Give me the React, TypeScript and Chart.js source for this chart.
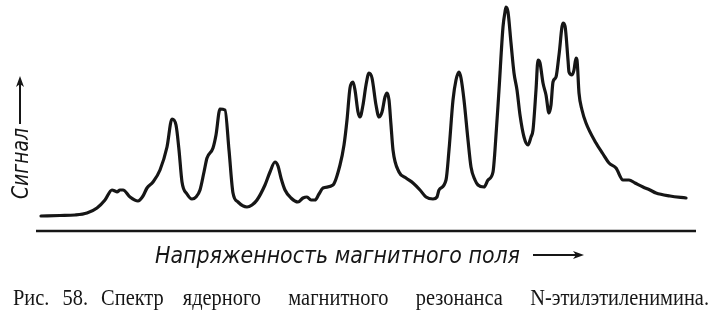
import React, { useEffect, useRef } from "react";
import { Chart, registerables } from "chart.js";
Chart.register(...registerables);

// Field strength (arbitrary units, left → right) and signal intensity
const fieldStrength = [
  5, 24, 39, 51, 61, 69, 76, 79, 81, 84, 87, 94, 102, 107, 111, 117, 124, 131, 136, 140,
  143, 146, 151, 156, 160, 164, 168, 171, 177, 180, 184, 189, 193, 197, 202, 211, 216, 221, 229, 234,
  239, 242, 245, 249, 255, 262, 267, 271, 275, 279, 283, 287, 297, 304, 308, 311, 314, 317, 319, 322,
  324, 327, 330, 333, 336, 340, 343, 346, 349, 351, 353, 355, 357, 363, 370, 377, 384, 390, 397, 401,
  403, 410, 413, 417, 420, 423, 425, 428, 432, 435, 439, 442, 448, 452, 457, 459, 463, 467, 469, 470,
  472, 475, 478, 481, 484, 488, 492, 495, 497, 500, 502, 504, 507, 510, 513, 515, 517, 520, 523, 527,
  529, 532, 533, 536, 538, 540, 541, 543, 546, 550, 560, 567, 573, 580, 587, 593, 599, 607, 614, 620,
  634, 650,
];
const signal = [
  15, 15.5, 16, 18, 23, 31, 41, 40, 39, 41, 41, 34, 30, 35, 43, 49, 61, 84, 112, 106,
  81, 49, 37, 32, 34, 41, 59, 73, 83, 96, 122, 121, 81, 38, 29, 24, 26, 31, 46, 59,
  69, 65, 53, 41, 33, 29, 33, 34, 31, 31, 37, 43, 46, 66, 86, 111, 143, 149, 141, 119,
  114, 126, 146, 158, 153, 126, 114, 119, 134, 138, 131, 106, 81, 59, 53, 48, 41, 34, 32, 34,
  41, 51, 81, 131, 151, 159, 153, 131, 91, 64, 51, 46, 44, 51, 59, 81, 141, 204, 219, 224,
  219, 188, 158, 141, 116, 94, 86, 94, 101, 141, 171, 168, 148, 136, 118, 126, 149, 154, 176, 208,
  205, 171, 159, 156, 161, 173, 171, 138, 121, 108, 88, 77, 68, 63, 51, 51, 48, 44, 41, 38,
  35, 33,
];
const yMax = 231;
const xMax = 660;

const xAxisLabel = "Напряженность магнитного поля";
const yAxisLabel = "Сигнал";
const captionWords = ["Рис.", "58.", "Спектр", "ядерного", "магнитного", "резонанса", "N-этилэтиленимина."];
const captionGapWeights = [0.55, 0.55, 0.8, 1.15, 1.15, 1.15];

const ink = "#161616";

function arrowHead(ctx: CanvasRenderingContext2D, x: number, y: number, dir: "right" | "up") {
  ctx.beginPath();
  if (dir === "right") {
    ctx.moveTo(x, y);
    ctx.lineTo(x - 11, y - 4);
    ctx.lineTo(x - 8, y);
    ctx.lineTo(x - 11, y + 4);
  } else {
    ctx.moveTo(x, y);
    ctx.lineTo(x - 4, y + 11);
    ctx.lineTo(x, y + 8);
    ctx.lineTo(x + 4, y + 11);
  }
  ctx.closePath();
  ctx.fill();
}

export default function App() {
  const ref = useRef<HTMLCanvasElement>(null);

  useEffect(() => {
    const canvas = ref.current;
    if (!canvas) return;

    const decor = {
      id: "decor",
      afterDraw(chart: any) {
        const { ctx, chartArea } = chart;
        ctx.save();
        ctx.fillStyle = ink;
        ctx.strokeStyle = ink;

        // baseline (field axis)
        ctx.lineWidth = 2.5;
        ctx.beginPath();
        ctx.moveTo(chartArea.left, chartArea.bottom);
        ctx.lineTo(chartArea.right, chartArea.bottom);
        ctx.stroke();

        // x-axis label with arrow
        ctx.font = "italic 23px 'DejaVu Sans'";
        ctx.textAlign = "left";
        ctx.textBaseline = "alphabetic";
        ctx.fillText(xAxisLabel, 155, 263, 365);
        ctx.lineWidth = 2;
        ctx.beginPath();
        ctx.moveTo(533, 255);
        ctx.lineTo(577, 255);
        ctx.stroke();
        arrowHead(ctx, 584, 255, "right");

        // y-axis label with arrow (rotated)
        ctx.save();
        ctx.translate(28, 199);
        ctx.rotate(-Math.PI / 2);
        ctx.fillText(yAxisLabel, 0, 0, 71);
        ctx.restore();
        ctx.beginPath();
        ctx.moveTo(20, 124);
        ctx.lineTo(20, 84);
        ctx.stroke();
        arrowHead(ctx, 20, 76, "up");

        // caption, spread across the full width
        ctx.font = "24px 'Liberation Serif'";
        const sx = 0.85;
        const left = 13;
        const right = 709;
        const widths = captionWords.map((w) => ctx.measureText(w).width * sx);
        const total = widths.reduce((a, b) => a + b, 0);
        const wsum = captionGapWeights.reduce((a, b) => a + b, 0);
        const unit = Math.max(0, right - left - total) / wsum;
        let x = left;
        captionWords.forEach((w, i) => {
          ctx.save();
          ctx.translate(x, 305);
          ctx.scale(sx, 1);
          ctx.fillText(w, 0, 0);
          ctx.restore();
          x += widths[i] + (captionGapWeights[i] || 0) * unit;
        });

        ctx.restore();
      },
    };

    const chart = new Chart(canvas, {
      type: "line",
      data: {
        datasets: [
          {
            data: fieldStrength.map((x, i) => ({ x, y: signal[i] })),
            borderColor: ink,
            borderWidth: 3.2,
            pointRadius: 0,
            fill: false,
            cubicInterpolationMode: "monotone",
            borderJoinStyle: "round",
            borderCapStyle: "round",
          },
        ],
      },
      options: {
        responsive: false,
        animation: false,
        devicePixelRatio: 1,
        layout: { padding: { left: 36, right: 20, top: 0, bottom: 88 } },
        plugins: { legend: { display: false }, tooltip: { enabled: false }, title: { display: false } },
        events: [],
        scales: {
          x: { type: "linear", min: 0, max: xMax, display: false },
          y: { type: "linear", min: 0, max: yMax, display: false },
        },
      },
      plugins: [decor],
    } as any);

    return () => chart.destroy();
  }, []);

  return (
    <div style={{ position: "absolute", left: 0, top: 0, width: 716, height: 319, background: "#fff" }}>
      <canvas ref={ref} width={716} height={319} style={{ display: "block", width: 716, height: 319 }} />
    </div>
  );
}
